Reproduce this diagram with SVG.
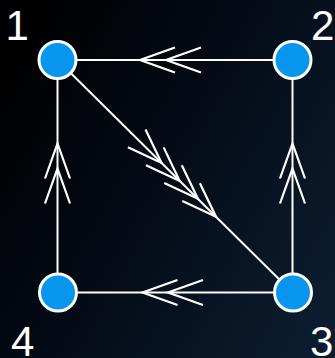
<svg xmlns="http://www.w3.org/2000/svg" xmlns:xlink="http://www.w3.org/1999/xlink" width="335" height="358" viewBox="0 0 335 358">
<style>
.edge{stroke:#ffffff;stroke-width:2;fill:none}
.chev{stroke:#ffffff;stroke-width:2.2;fill:none}
.node{fill:#0795ee;stroke:#ffffff;stroke-width:3}
.lbl{font-family:"Liberation Sans",Arial,sans-serif;font-size:42px;fill:#ffffff}
</style>
<defs>
<linearGradient id="bg" x1="0" y1="0.2" x2="1" y2="0.8">
<stop offset="0" stop-color="#000000"/>
<stop offset="0.5" stop-color="#040c18"/>
<stop offset="1" stop-color="#0c1c2e"/>
</linearGradient>
<path id="chev" class="chev" d="M35,-12.5 L0,0 L35,12.5"/>
</defs>
<rect width="335" height="358" fill="url(#bg)"/>
<g id="connectors">
<line class="edge" x1="57.5" y1="60" x2="292.5" y2="60"/>
<line class="edge" x1="57.5" y1="60" x2="57.5" y2="292.5"/>
<line class="edge" x1="292.5" y1="60" x2="292.5" y2="292.5"/>
<line class="edge" x1="57.5" y1="292.5" x2="292.5" y2="292.5"/>
<line class="edge" x1="57.5" y1="60" x2="292.5" y2="292.5"/>
<use xlink:href="#chev" transform="translate(140,60)"/>
<use xlink:href="#chev" transform="translate(166,60)"/>
<use xlink:href="#chev" transform="translate(142.5,292.5)"/>
<use xlink:href="#chev" transform="translate(168,292.5)"/>
<use xlink:href="#chev" transform="translate(57.5,143.5) rotate(90)"/>
<use xlink:href="#chev" transform="translate(57.5,168.5) rotate(90)"/>
<use xlink:href="#chev" transform="translate(292.5,143.5) rotate(90)"/>
<use xlink:href="#chev" transform="translate(292.5,168.5) rotate(90)"/>
<use xlink:href="#chev" transform="translate(161.6,163) rotate(-135.3)"/>
<use xlink:href="#chev" transform="translate(179.7,180.9) rotate(-135.3)"/>
<use xlink:href="#chev" transform="translate(197.9,198.8) rotate(-135.3)"/>
<use xlink:href="#chev" transform="translate(216,216.7) rotate(-135.3)"/>
</g>
<g id="node1"><circle class="node" cx="57.5" cy="60" r="18.5"/><text class="lbl" x="5.5" y="40">1</text></g>
<g id="node2"><circle class="node" cx="292.5" cy="60" r="18.5"/><text class="lbl" x="311" y="40">2</text></g>
<g id="node3"><circle class="node" cx="293" cy="292.5" r="18.5"/><text class="lbl" x="310" y="356">3</text></g>
<g id="node4"><circle class="node" cx="58" cy="292.5" r="18.5"/><text class="lbl" x="11" y="356">4</text></g>
</svg>
